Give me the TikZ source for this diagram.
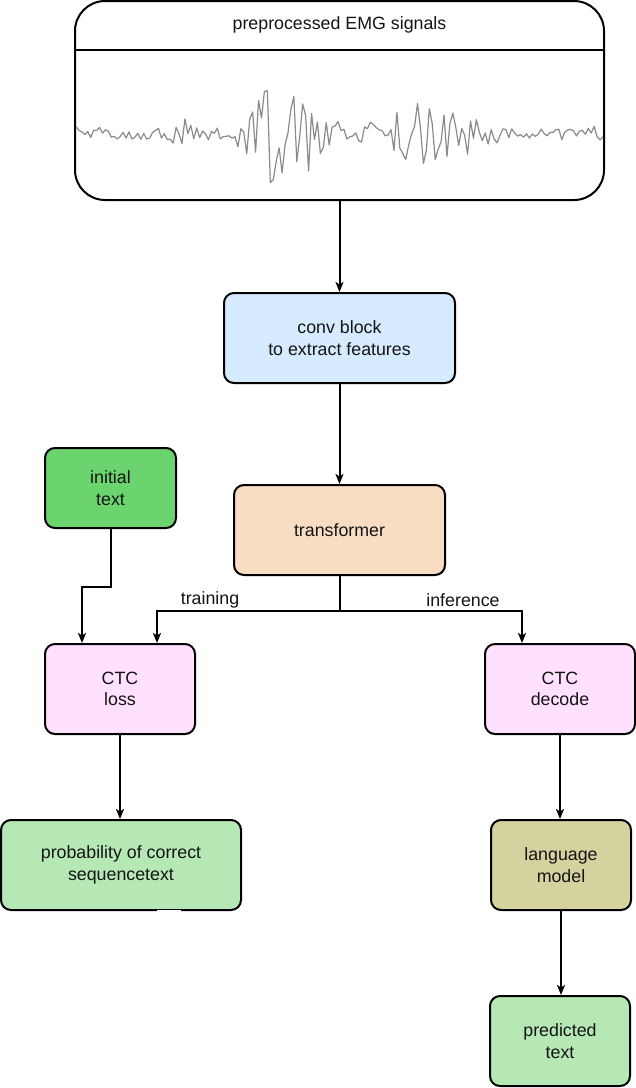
\documentclass[tikz,border=0pt]{standalone}
\usepackage{fontspec}
\setmainfont{Liberation Sans}
\usetikzlibrary{arrows.meta}
\definecolor{convc}{HTML}{D6EBFF}
\definecolor{trc}{HTML}{F8DDC3}
\definecolor{initc}{HTML}{6CD46E}
\definecolor{ctcc}{HTML}{FFE0FF}
\definecolor{greenc}{HTML}{B6E8B6}
\definecolor{lmc}{HTML}{D4D3A0}
\definecolor{sigc}{HTML}{8A8A8A}
\begin{document}
\begin{tikzpicture}[x=1pt,y=-1pt,
  txt/.style={font=\fontsize{17.8}{21.5}\selectfont, text=black!92, align=center, inner sep=0pt},
  box/.style={txt, draw=black, line width=2pt, rounded corners=10pt},
  conn/.style={line width=2pt, -{Stealth[length=10pt,width=8pt,inset=2.5pt]}},
  plain/.style={line width=2pt}]
\useasboundingbox (0,0) rectangle (636,1088);
\pgfmathsetseed{11}
% top box
\node[draw=black, line width=2pt, rounded corners=30pt, minimum width=529pt, minimum height=199pt, inner sep=0pt] (emg) at (339.5,100.5) {};
\draw[line width=2pt] (emg.west |- 0,50) -- (emg.east |- 0,50);
\node[txt] (title) at (339.5,25) {preprocessed EMG signals};
\draw[sigc, line width=1.2pt, line join=round] plot[domain=76:603, samples=180]
  (\x, {133 - (7 + 52*exp(-((\x-285)/34)^2) + 30*exp(-((\x-430)/44)^2) + 14*exp(-((\x-178)/12)^2))*(2*rnd-1)});
% boxes
\node[box, fill=convc, minimum width=231pt, minimum height=90pt] (conv) at (339.5,338) {conv block\\to extract features};
\node[box, fill=trc, minimum width=211pt, minimum height=90pt] (tr) at (339.5,530) {transformer};
\node[box, fill=initc, minimum width=131pt, minimum height=80pt] (init) at (110.5,488) {initial\\text};
\node[box, fill=ctcc, minimum width=150pt, minimum height=90pt] (loss) at (120,689) {CTC\\loss};
\node[box, fill=ctcc, minimum width=150pt, minimum height=90pt] (dec) at (560,689) {CTC\\decode};
\node[box, fill=greenc, minimum width=240pt, minimum height=90pt] (prob) at (121,865) {probability of correct\\sequencetext};
\node[box, fill=lmc, minimum width=140pt, minimum height=90pt] (lm) at (561,865) {language\\model};
\node[box, fill=greenc, minimum width=140pt, minimum height=90pt] (pred) at (560,1041) {predicted\\text};
% connectors
\draw[conn] (emg.south) -- (conv.north);
\draw[conn] (conv.south) -- (tr.north);
\draw[conn] (init.south) -- ++(0,58) -| ([xshift=-38pt]loss.north);
\coordinate (split) at ([yshift=-35pt]tr.south);
\draw[plain] (tr.south) -- (split);
\draw[conn] (split) -| ([xshift=37pt]loss.north);
\draw[conn] (split) -| ([xshift=-38pt]dec.north);
\node[txt] (ltrain) at (210,600) {training};
\node[txt] (linf) at (463,600) {inference};
\draw[conn] (loss.south) -- (loss.south |- prob.north);
\draw[conn] (dec.south) -- (dec.south |- lm.north);
\draw[conn] (lm.south) -- (lm.south |- pred.north);
% small white mark on the bottom border
\draw[white, line width=2pt] ([xshift=36pt]prob.south) -- ([xshift=60pt]prob.south);
\end{tikzpicture}
\end{document}
